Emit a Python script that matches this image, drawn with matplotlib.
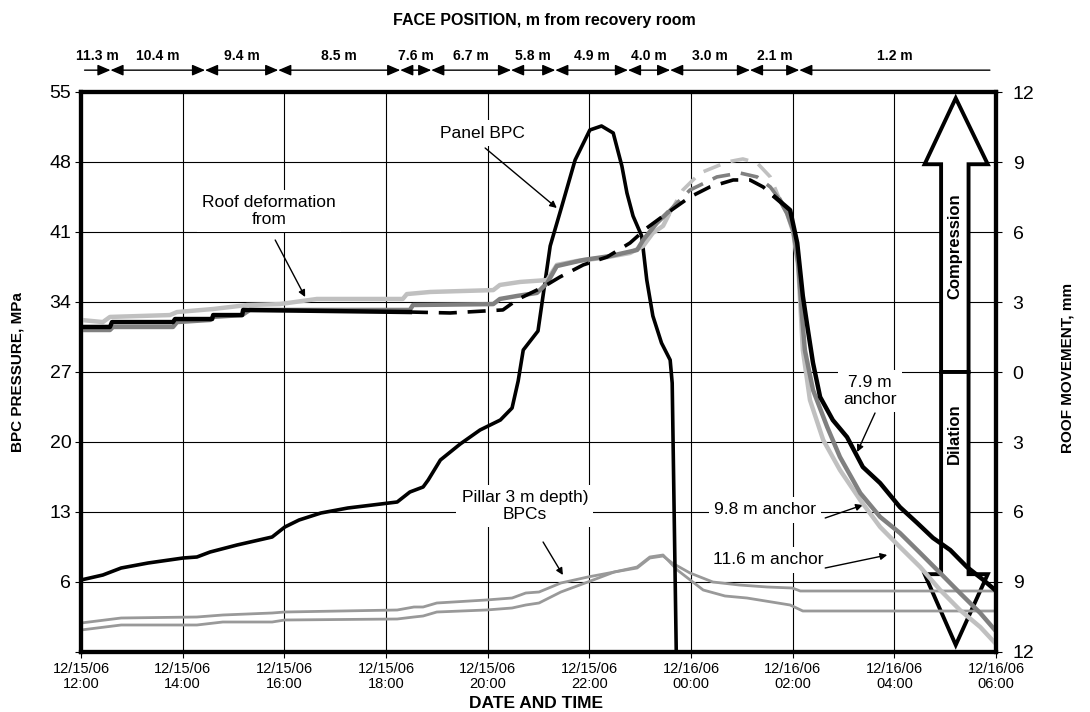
import matplotlib
matplotlib.use("Agg")
import matplotlib.pyplot as plt
import matplotlib.transforms as mtransforms
from matplotlib.patches import Polygon
import numpy as np

plt.rcParams["font.family"] = ["Liberation Sans", "DejaVu Sans"]

# time axis: hours after 12/15/06 12:00
tick_hours = [0, 2, 4, 6, 8, 10, 12, 14, 16, 18]
tick_labels = ["12/15/06\n12:00", "12/15/06\n14:00", "12/15/06\n16:00", "12/15/06\n18:00",
               "12/15/06\n20:00", "12/15/06\n22:00", "12/16/06\n00:00", "12/16/06\n02:00",
               "12/16/06\n04:00", "12/16/06\n06:00"]

# face position segments (hours) and distances
face_bounds = [0.07, 0.58, 2.44, 3.88, 6.28, 6.89, 8.46, 9.33, 10.76, 11.59, 13.16, 14.13, 17.88]
face_labels = ["11.3 m", "10.4 m", "9.4 m", "8.5 m", "7.6 m", "6.7 m", "5.8 m", "4.9 m",
               "4.0 m", "3.0 m", "2.1 m", "1.2 m"]

# panel BPC pressure, MPa
panel_t = [0, 0.43, 0.79, 1.32, 2.01, 2.28, 2.54, 3.07, 3.76, 4.01, 4.29, 4.72, 5.25, 6.22,
           6.47, 6.73, 6.83, 7.07, 7.46, 7.85, 8.25, 8.48, 8.6, 8.7, 8.99, 9.23, 9.46, 9.72,
           10.01, 10.24, 10.47, 10.64, 10.74, 10.86, 11.03, 11.13, 11.25, 11.42, 11.59, 11.63, 11.71]
panel_mpa = [6.2, 6.7, 7.4, 7.9, 8.4, 8.5, 9.0, 9.7, 10.5, 11.5, 12.2, 12.9, 13.4, 14.0,
             15.0, 15.5, 16.2, 18.2, 19.8, 21.2, 22.2, 23.4, 26.1, 29.2, 31.1, 39.6, 43.6, 48.2,
             51.2, 51.6, 50.9, 47.6, 44.9, 42.6, 40.6, 36.2, 32.6, 29.9, 28.2, 25.9, -1.0]

# pillar BPCs (3 m depth), MPa
pillar_a_t = [0, 0.79, 2.28, 2.79, 3.76, 4.01, 6.22, 6.55, 6.73, 7.0, 7.97, 8.48, 8.75, 9.01,
              9.44, 9.97, 10.49, 10.94, 11.19, 11.45, 11.63, 11.98, 12.43, 12.95, 13.5, 13.99,
              14.15, 18.0]
pillar_a_mpa = [1.9, 2.4, 2.5, 2.7, 2.9, 3.0, 3.2, 3.5, 3.5, 3.9, 4.2, 4.4, 4.9, 5.0,
                5.9, 6.5, 7.0, 7.4, 8.4, 8.6, 7.9, 6.9, 6.0, 5.7, 5.5, 5.4, 5.1, 5.1]
pillar_b_t = [0, 0.79, 2.28, 2.79, 3.76, 4.01, 6.22, 6.55, 6.73, 7.0, 7.97, 8.48, 8.75, 9.01,
              9.44, 9.97, 10.49, 10.94, 11.19, 11.45, 11.73, 12.24, 12.67, 13.1, 13.95, 14.2, 18.0]
pillar_b_mpa = [1.2, 1.7, 1.7, 2.0, 2.0, 2.2, 2.3, 2.5, 2.6, 3.0, 3.2, 3.4, 3.7, 3.9,
                5.0, 6.0, 7.0, 7.5, 8.5, 8.7, 7.2, 5.2, 4.6, 4.4, 3.7, 3.1, 3.1]

# roof movement, mm (positive = compression)
a79_t = [0, 0.57, 0.61, 1.81, 1.85, 2.58, 2.6, 3.17, 3.19, 6.47,
         7.26, 8.3, 8.58, 9.09, 9.42, 9.88, 10.35, 10.8, 11.13, 11.53, 11.98, 12.37, 12.83,
         13.16, 13.42, 13.65,
         13.95, 14.09, 14.2, 14.3, 14.4, 14.54, 14.79, 15.07, 15.38, 15.72, 16.11, 16.45,
         16.76, 17.1, 17.43, 17.75, 17.98]
a79_mm = [1.93, 1.93, 2.14, 2.14, 2.27, 2.27, 2.44, 2.44, 2.66, 2.57,
          2.53, 2.66, 3.1, 3.64, 4.07, 4.59, 4.93, 5.53, 6.17, 6.81, 7.5, 7.93, 8.23,
          8.23, 7.93, 7.5,
          6.94, 5.53, 3.26, 1.8, 0.39, -1.07, -2.06, -2.79, -4.07, -4.76, -5.79, -6.47,
          -7.11, -7.63, -8.36, -8.91, -9.34]
a79_dash = (6.47, 13.65)

a98_t = [0, 0.57, 0.63, 1.81, 1.89, 2.54, 2.6, 3.17, 3.32, 6.47, 6.53, 8.11, 8.24, 8.58,
         8.97, 9.17, 9.36, 9.88, 10.41, 10.94, 11.06, 11.33, 11.53,
         11.98, 12.51, 12.96, 13.3, 13.56, 13.75,
         13.89, 14.01, 14.11, 14.18, 14.24, 14.4, 14.68, 14.93, 15.33, 15.72, 16.11, 16.51,
         16.9, 17.29, 17.69, 17.98]
a98_mm = [1.8, 1.8, 1.93, 1.93, 2.14, 2.23, 2.36, 2.44, 2.66, 2.66, 2.87, 2.91, 3.13, 3.26,
          3.39, 3.81, 4.54, 4.8, 4.97, 5.23, 5.66, 6.39, 6.81,
          7.8, 8.36, 8.53, 8.36, 7.93, 7.37,
          6.81, 6.09, 4.67, 2.53, 0.94, -0.77, -2.36, -3.64, -5.19, -6.21, -6.9, -7.76,
          -8.61, -9.47, -10.33, -11.06]
a98_dash = (11.53, 13.75)

a116_t = [0, 0.43, 0.57, 1.75, 1.89, 2.6, 3.27, 3.91, 4.64, 6.33, 6.41, 6.87, 8.11, 8.24,
          8.64, 9.17, 9.36, 9.76, 10.27, 10.8, 11.06, 11.25, 11.45, 11.55,
          11.84, 12.18, 12.71, 13.02, 13.3, 13.56, 13.75,
          13.89, 14.01, 14.11, 14.2, 14.34, 14.6, 14.93, 15.33, 15.72, 16.11, 16.51, 16.9,
          17.29, 17.69, 17.98]
a116_mm = [2.23, 2.14, 2.36, 2.44, 2.57, 2.7, 2.87, 2.91, 3.13, 3.13, 3.34, 3.43, 3.51, 3.73,
           3.86, 3.94, 4.59, 4.76, 4.89, 5.1, 5.4, 5.96, 6.26, 6.69,
           7.8, 8.53, 9.0, 9.13, 8.96, 8.36, 7.37,
           6.81, 6.0, 4.5, 0.94, -1.2, -2.91, -4.2, -5.49, -6.64, -7.5, -8.36, -9.34,
           -10.2, -10.93, -11.61]
a116_dash = (11.55, 13.75)


def plot_anchor(ax, t, v, dash, color):
    t = np.asarray(t)
    v = np.asarray(v)
    a, b = dash
    pre = t <= a
    mid = (t >= a) & (t <= b)
    post = t >= b
    ax.plot(t[pre], v[pre], color=color, lw=3.2)
    ax.plot(t[mid], v[mid], color=color, lw=2.6, dashes=(5, 3))
    ax.plot(t[post], v[post], color=color, lw=3.2)


fig = plt.figure(figsize=(10.9, 7.12), dpi=100)
ax = fig.add_axes([81 / 1090, 60 / 712, 915 / 1090, 560 / 712])
ax2 = ax.twinx()

ax.set_xlim(0, 18)
ax.set_ylim(-1, 55)
ax.set_xticks(tick_hours)
ax.set_xticklabels(tick_labels, fontsize=10.5, linespacing=1.15)
yt = list(range(-1, 56, 7))
ax.set_yticks(yt)
ax.set_yticklabels(["" if v == -1 else str(v) for v in yt], fontsize=14)
ax.set_axisbelow(True)
ax.grid(True, color="black", lw=0.8)
ax.tick_params(axis="x", length=4, pad=3)
ax.tick_params(axis="y", length=4, pad=3)

ax2.set_ylim(-12, 12)
rt = list(range(-12, 13, 3))
ax2.set_yticks(rt)
ax2.set_yticklabels([str(abs(v)) for v in rt], fontsize=14)
ax2.tick_params(axis="y", length=4, pad=8)

for a in (ax, ax2):
    for s in a.spines.values():
        s.set_linewidth(3)

# data
ax.plot(pillar_a_t, pillar_a_mpa, color="#999999", lw=2, zorder=2)
ax.plot(pillar_b_t, pillar_b_mpa, color="#999999", lw=2, zorder=2)
ax.plot(panel_t, panel_mpa, color="black", lw=2.6, zorder=3)

plot_anchor(ax2, a116_t, a116_mm, a116_dash, "#c0c0c0")
plot_anchor(ax2, a98_t, a98_mm, a98_dash, "#808080")
plot_anchor(ax2, a79_t, a79_mm, a79_dash, "black")

# compression / dilation block arrows
up = [(0.940, 0.5), (0.940, 0.871), (0.922, 0.871), (0.956, 0.989), (0.991, 0.871),
      (0.970, 0.871), (0.970, 0.5)]
down = [(0.940, 0.5), (0.940, 0.139), (0.922, 0.139), (0.956, 0.0125), (0.991, 0.139),
        (0.970, 0.139), (0.970, 0.5)]
for pts in (up, down):
    ax.add_patch(Polygon(pts, closed=True, transform=ax.transAxes, facecolor="white",
                         edgecolor="black", lw=2.8, zorder=1.5, joinstyle="miter"))
ax.text(0.955, 0.725, "Compression", transform=ax.transAxes, rotation=90, ha="center",
        va="center", fontsize=12, fontweight="bold", zorder=1.6)
ax.text(0.955, 0.389, "Dilation", transform=ax.transAxes, rotation=90, ha="center",
        va="center", fontsize=12, fontweight="bold", zorder=1.6)

# annotations
box = dict(boxstyle="square,pad=0.3", facecolor="white", edgecolor="none")
arr = dict(arrowstyle="-|>", color="black", lw=1, mutation_scale=10, shrinkA=0, shrinkB=0)
notes = [
    ("Panel BPC", (7.89, 50.9), (7.95, 49.4), (9.36, 43.4)),
    ("Roof deformation\nfrom", (3.7, 43.1), (3.82, 40.2), (4.41, 34.5)),
    ("Pillar 3 m depth)\nBPCs", (8.73, 13.6), (9.09, 10.0), (9.48, 6.7)),
    ("7.9 m\nanchor", (15.52, 25.1), (15.62, 22.9), (15.27, 19.0)),
    ("9.8 m anchor", (13.46, 13.2), (14.64, 12.4), (15.38, 13.7)),
    ("11.6 m anchor", (13.52, 8.2), (14.64, 7.4), (15.86, 8.7)),
]
for txt, pos, start, end in notes:
    ax.text(pos[0], pos[1], txt, ha="center", va="center", fontsize=12.5, bbox=box,
            zorder=1.6, linespacing=1.1)
    ax.annotate("", xy=end, xytext=start, arrowprops=arr, zorder=4)

# face position arrows above the plot
trans = mtransforms.blended_transform_factory(ax.transData, ax.transAxes)
n = len(face_labels)
for i, lab in enumerate(face_labels):
    a, b = face_bounds[i], face_bounds[i + 1]
    if i == 0:
        style = "-|>,head_length=0.7,head_width=0.3"
    elif i == n - 1:
        style = "<|-,head_length=0.7,head_width=0.3"
    else:
        style = "<|-|>,head_length=0.7,head_width=0.3"
    ax.annotate("", xy=(b, 1.039), xytext=(a, 1.039), xycoords=trans, textcoords=trans,
                arrowprops=dict(arrowstyle=style, color="black", lw=1, mutation_scale=11,
                                shrinkA=0, shrinkB=0),
                annotation_clip=False)
    ax.text((a + b) / 2, 1.064, lab, transform=trans, ha="center", va="center",
            fontsize=10, fontweight="bold")

fig.text(0.499, 1 - 20 / 712, "FACE POSITION, m from recovery room", ha="center",
         va="center", fontsize=11.5, fontweight="bold")
fig.text(18 / 1090, 1 - 372 / 712, "BPC PRESSURE, MPa", rotation=90, ha="center",
         va="center", fontsize=11, fontweight="bold")
fig.text(1068 / 1090, 1 - 368 / 712, "ROOF MOVEMENT, mm", rotation=90, ha="center",
         va="center", fontsize=11, fontweight="bold")
fig.text(536 / 1090, 1 - 703 / 712, "DATE AND TIME", ha="center", va="center",
         fontsize=12.5, fontweight="bold")

fig.savefig("out.png", dpi=100)
plt.close(fig)
